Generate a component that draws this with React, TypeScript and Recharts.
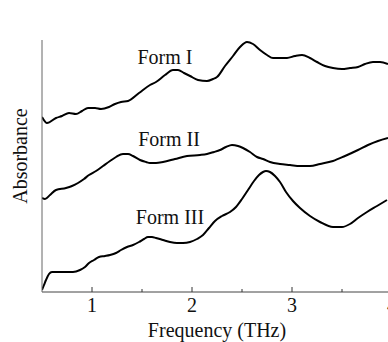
import { Line, LineChart, ReferenceDot, XAxis, YAxis } from "recharts";

const formIFreq = [0.5, 0.55, 0.64, 0.7, 0.77, 0.84, 0.9, 0.96, 1.03, 1.09, 1.17, 1.23, 1.29, 1.36, 1.47, 1.58, 1.64, 1.73, 1.81, 1.86, 1.92, 1.98, 2.06, 2.15, 2.21, 2.25, 2.33, 2.41, 2.48, 2.55, 2.61, 2.68, 2.75, 2.81, 2.88, 2.95, 3.03, 3.1, 3.18, 3.25, 3.33, 3.41, 3.5, 3.58, 3.66, 3.73, 3.81, 3.88, 3.96];
const formIAbs = [175, 169, 174, 176, 179, 178, 181, 184, 184, 183, 185, 188, 190, 191, 199, 207, 210, 217, 222, 222, 219, 216, 212, 211, 213, 215, 226, 236, 245, 250, 248, 242, 237, 234, 234, 234, 236, 237, 234, 230, 226, 224, 223, 224, 225, 228, 230, 230, 228];

const formIIFreq = [0.5, 0.53, 0.58, 0.64, 0.74, 0.8, 0.86, 0.92, 0.97, 1.04, 1.11, 1.18, 1.24, 1.31, 1.36, 1.41, 1.48, 1.54, 1.58, 1.64, 1.71, 1.83, 1.95, 2.08, 2.15, 2.22, 2.28, 2.34, 2.4, 2.46, 2.51, 2.58, 2.65, 2.71, 2.78, 2.88, 2.98, 3.08, 3.18, 3.28, 3.41, 3.53, 3.66, 3.76, 3.86, 3.96];
const formIIAbs = [94, 93, 97, 102, 104, 106, 109, 113, 117, 121, 126, 131, 135, 138, 138, 136, 132, 130, 129, 129, 130, 133, 136, 137, 138, 140, 142, 145, 147, 146, 144, 140, 135, 133, 130, 128, 127, 126, 126, 128, 131, 136, 142, 147, 151, 154];

const formIIIFreq = [0.5, 0.52, 0.54, 0.57, 0.6, 0.67, 0.75, 0.81, 0.88, 0.93, 0.97, 1.02, 1.07, 1.13, 1.18, 1.24, 1.29, 1.35, 1.41, 1.47, 1.52, 1.56, 1.6, 1.64, 1.71, 1.78, 1.85, 1.91, 1.98, 2.05, 2.11, 2.17, 2.23, 2.3, 2.38, 2.44, 2.5, 2.56, 2.62, 2.67, 2.71, 2.74, 2.78, 2.83, 2.88, 2.94, 3.01, 3.08, 3.18, 3.28, 3.41, 3.5, 3.58, 3.66, 3.75, 3.85, 3.95];
const formIIIAbs = [2, 7, 12, 18, 20, 20, 20, 20, 22, 25, 29, 32, 35, 36, 37, 39, 42, 45, 47, 50, 53, 55, 55, 54, 52, 50, 49, 49, 50, 53, 57, 64, 71, 76, 80, 85, 93, 102, 111, 117, 120, 121, 120, 116, 110, 100, 91, 84, 76, 70, 65, 65, 68, 74, 80, 86, 92];

const freqTicks = [1, 1.5, 2, 2.5, 3, 3.5, 4];

const labelText = ["Form I", "Form II", "Form III"];
const labelFreq = [1.73, 1.77, 1.78];
const labelAbs = [235.5, 153, 75.5];

const toPoints = (fs: number[], as: number[]) => fs.map((f, i) => ({ f, a: as[i] }));
const series = [
  toPoints(formIFreq, formIAbs),
  toPoints(formIIFreq, formIIAbs),
  toPoints(formIIIFreq, formIIIAbs),
];

const font = "'Liberation Serif', 'Times New Roman', serif";

function FreqTick(props: any) {
  const { x, y, payload } = props;
  const major = Number.isInteger(payload.value);
  return (
    <g>
      <line x1={x} x2={x} y1={y} y2={y - (major ? 5 : 3)} stroke="#333" strokeWidth={1} />
      {major && (
        <text x={x} y={y + 20} textAnchor="middle" fontSize={20} fontFamily={font} fill="#111">
          {payload.value}
        </text>
      )}
    </g>
  );
}

export default function App() {
  return (
    <div
      style={{
        position: "fixed",
        left: 0,
        top: 0,
        width: 388,
        height: 342,
        overflow: "hidden",
        background: "#fff",
      }}
    >
      <LineChart width={400} height={342} margin={{ top: 40, right: 8, left: 0, bottom: 20 }}>
        <XAxis
          dataKey="f"
          type="number"
          domain={[0.5, 4]}
          ticks={freqTicks}
          allowDataOverflow
          tickLine={false}
          tickSize={0}
          tickMargin={0}
          tick={<FreqTick />}
          height={30}
          stroke="#444"
          label={{
            value: "Frequency (THz)",
            position: "bottom",
            offset: 1,
            fontSize: 20,
            fontFamily: font,
            fill: "#111",
          }}
        />
        <YAxis
          type="number"
          domain={[0, 252]}
          width={42}
          tick={false}
          tickLine={false}
          stroke="#666"
          label={{
            content: (p: any) => {
              const vb = p.viewBox;
              return (
                <text
                  transform={`translate(${vb.x + 27},${vb.y + vb.height / 2 - 10}) rotate(-90)`}
                  textAnchor="middle"
                  fontSize={20}
                  fontFamily={font}
                  fill="#111"
                >
                  Absorbance
                </text>
              );
            },
          }}
        />
        {series.map((d, i) => (
          <Line
            key={i}
            data={d}
            dataKey="a"
            type="monotone"
            stroke="#000"
            strokeWidth={2}
            dot={false}
            activeDot={false}
            isAnimationActive={false}
          />
        ))}
        {labelText.map((t, i) => (
          <ReferenceDot
            key={t}
            x={labelFreq[i]}
            y={labelAbs[i]}
            r={0}
            fill="none"
            stroke="none"
            label={{ value: t, position: "center", fontSize: 20, fontFamily: font, fill: "#111" }}
          />
        ))}
      </LineChart>
    </div>
  );
}
